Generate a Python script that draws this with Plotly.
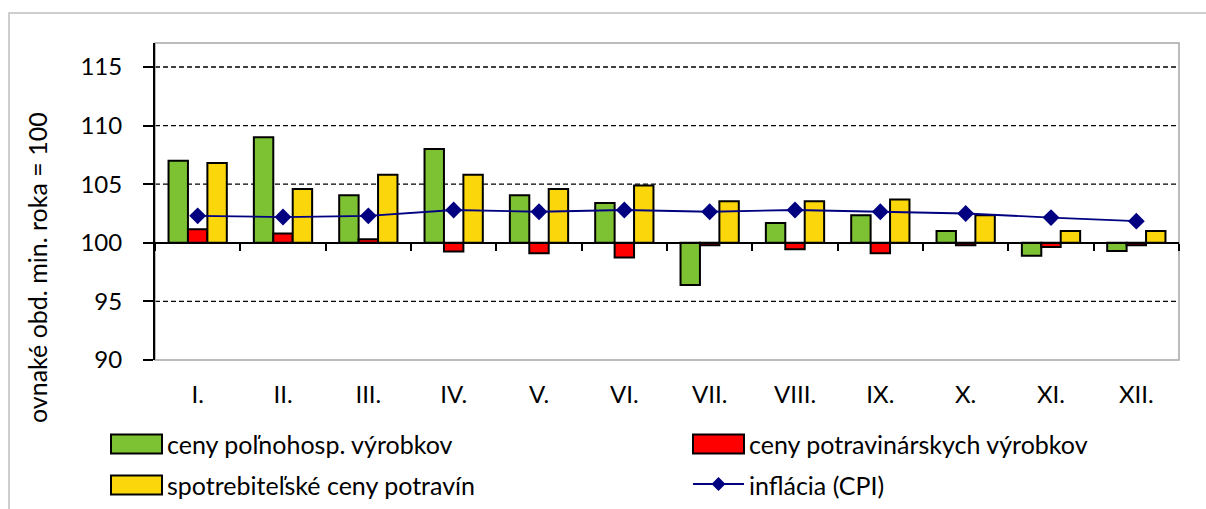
import plotly.graph_objects as go

months = ["I.", "II.", "III.", "IV.", "V.", "VI.", "VII.", "VIII.", "IX.", "X.", "XI.", "XII."]
agri = [107.0, 109.0, 104.05, 108.0, 104.05, 103.4, 96.4, 101.7, 102.35, 101.0, 98.9, 99.3]
food = [101.15, 100.8, 100.3, 99.25, 99.1, 98.75, 99.8, 99.45, 99.1, 99.8, 99.65, 99.8]
consumer = [106.8, 104.6, 105.8, 105.8, 104.6, 104.9, 103.55, 103.55, 103.7, 102.35, 101.0, 101.0]
cpi = [102.3, 102.2, 102.3, 102.8, 102.65, 102.8, 102.65, 102.8, 102.65, 102.5, 102.15, 101.85]
names = ["ceny poľnohosp. výrobkov", "ceny potravinárskych výrobkov",
         "spotrebiteľské ceny potravín", "inflácia (CPI)"]
y_ticks = [90, 95, 100, 105, 110, 115]
grid_vals = [95, 105, 110, 115]
y_title = "ovnaké obd. min. roka = 100"

GREEN, RED, YELLOW, NAVY = "#7DC232", "#FF0000", "#FAD60A", "#000080"
FONT = "Lato"
BASE = 100
Y_MIN, Y_MAX = 90, 117.05

W, H = 1206, 509
ML, MR, MT, MB = 155, 27, 43, 149
PW, PH = W - ML - MR, H - MT - MB


def px_x(px):
    return (px - ML) / PW


def px_y(py):
    return (H - MB - py) / PH


fig = go.Figure()
for vals, col, nm in [(agri, GREEN, names[0]), (food, RED, names[1]), (consumer, YELLOW, names[2])]:
    fig.add_trace(go.Bar(
        x=months, y=[v - BASE for v in vals], base=BASE, name=nm,
        marker=dict(color=col, line=dict(color="black", width=2)),
        showlegend=False,
    ))
fig.add_trace(go.Scatter(
    x=months, y=cpi, name=names[3], mode="lines+markers",
    line=dict(color=NAVY, width=1.8),
    marker=dict(symbol="diamond", size=13, color=NAVY),
    showlegend=False,
))
# helper trace for the axis crossing at 100
fig.add_trace(go.Scatter(x=months, y=[None] * len(months), xaxis="x2", mode="lines",
                         showlegend=False, hoverinfo="skip"))

shapes = []
for g in grid_vals:
    shapes.append(dict(type="line", xref="paper", yref="y", x0=0, x1=1, y0=g, y1=g,
                       line=dict(color="black", width=1.3, dash="5px,3px"), layer="below"))
shapes.append(dict(type="rect", xref="paper", yref="paper", x0=0, x1=1, y0=0, y1=1,
                   line=dict(color="#A6A6A6", width=1.5), layer="below"))
shapes.append(dict(type="rect", xref="paper", yref="paper",
                   x0=px_x(9), x1=px_x(1230), y0=px_y(540), y1=px_y(13),
                   line=dict(color="#BFBFBF", width=1.5), layer="below"))

annotations = []
leg = [
    (111, 444, names[0], GREEN, "bar"),
    (111, 485, names[2], YELLOW, "bar"),
    (693, 444, names[1], RED, "bar"),
    (693, 485, names[3], NAVY, "line"),
]
for lx, ly, txt, col, kind in leg:
    if kind == "bar":
        shapes.append(dict(type="rect", xref="paper", yref="paper",
                           x0=px_x(lx), x1=px_x(lx + 51), y0=px_y(ly + 9.5), y1=px_y(ly - 9.5),
                           fillcolor=col, line=dict(color="black", width=2)))
    else:
        shapes.append(dict(type="line", xref="paper", yref="paper",
                           x0=px_x(lx), x1=px_x(lx + 51), y0=px_y(ly - 1), y1=px_y(ly - 1),
                           line=dict(color=col, width=1.8)))
        shapes.append(dict(type="path", xref="paper", yref="paper",
                           path="M {a},{b} L {c},{d} L {a},{e} L {f},{d} Z".format(
                               a=px_x(lx + 25.5), b=px_y(ly - 8), c=px_x(lx + 32.5), d=px_y(ly - 1),
                               e=px_y(ly + 6), f=px_x(lx + 18.5)),
                           fillcolor=col, line=dict(color=col, width=0)))
    annotations.append(dict(text=txt, xref="paper", yref="paper", x=px_x(lx + 54), y=px_y(ly),
                            xanchor="left", yanchor="middle", showarrow=False,
                            font=dict(family=FONT, size=25, color="black")))

annotations.append(dict(text=y_title, xref="paper", yref="paper", x=px_x(37), y=px_y(268),
                        textangle=-90, xanchor="center", yanchor="middle", showarrow=False,
                        font=dict(family=FONT, size=25, color="black")))

x_range = [-0.5, len(months) - 0.5]

fig.update_layout(
    width=W, height=H,
    margin=dict(l=ML, r=MR, t=MT, b=MB, pad=0),
    paper_bgcolor="white", plot_bgcolor="white",
    barmode="group", bargap=0.317, bargroupgap=0,
    font=dict(family=FONT, size=24, color="black"),
    xaxis=dict(type="category", range=x_range, showgrid=False, showline=False, ticks="",
               tickfont=dict(family=FONT, size=24), ticklabelstandoff=18, zeroline=False),
    xaxis2=dict(type="category", range=x_range, overlaying="x", matches="x", anchor="free",
                position=(BASE - Y_MIN) / (Y_MAX - Y_MIN),
                showline=True, linecolor="black", linewidth=2,
                ticks="outside", ticklen=7, tickwidth=2, tickcolor="black",
                tickson="boundaries", showticklabels=False, showgrid=False, zeroline=False),
    yaxis=dict(range=[Y_MIN, Y_MAX], tickvals=y_ticks, showgrid=False, zeroline=False,
               showline=True, linecolor="black", linewidth=2,
               ticks="outside", ticklen=10, tickwidth=2, tickcolor="black",
               tickfont=dict(family=FONT, size=24), ticklabelstandoff=16),
    shapes=shapes, annotations=annotations,
)

fig.write_html("out.html", config={"displayModeBar": False},
               post_script="document.body.style.margin='0';document.body.style.overflow='hidden';")
